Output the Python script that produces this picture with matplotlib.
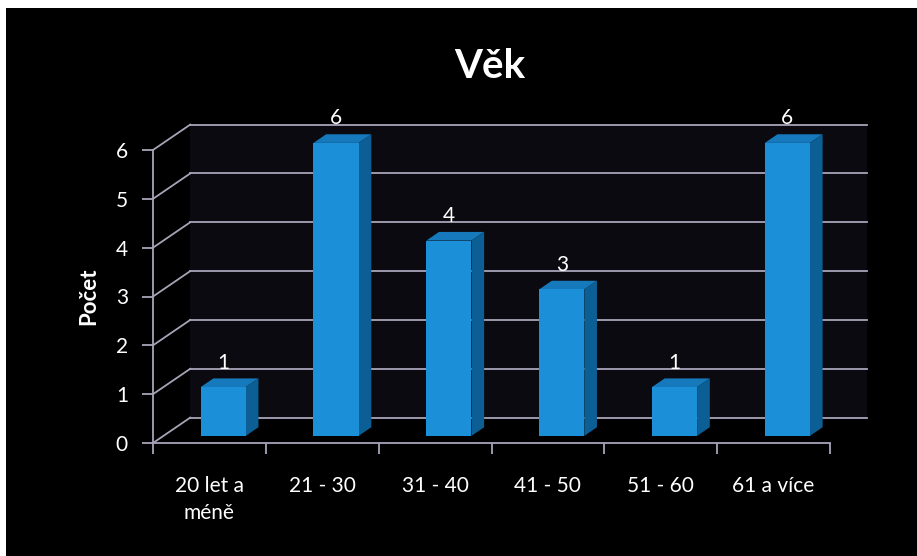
import matplotlib
matplotlib.use('Agg')
import matplotlib.pyplot as plt
from matplotlib.patches import Polygon, Rectangle

# data
categories = ['20 let a\nméně', '21 - 30', '31 - 40', '41 - 50', '51 - 60', '61 a více']
counts = [1, 6, 4, 3, 1, 6]
y_ticks = [0, 1, 2, 3, 4, 5, 6]

plt.rcParams['font.family'] = ['Lato', 'DejaVu Sans']

FRONT = '#1b8fd8'
TOP = '#1679bb'
SIDE = '#0c5f94'
GRID = '#a9a3b8'

# fake 3d depth, in data units (x: categories, y: counts)
DX, DY = 0.33, 0.52
F0, F1 = 0.28, 0.62   # bar front / back depth fraction
BW = 0.40             # bar width
BX = 0.33             # bar left edge inside category

fig = plt.figure(figsize=(9.17, 5.56), dpi=100, facecolor='white')
bg = Rectangle((6 / 917, 0), 1, 1 - 8 / 556, transform=fig.transFigure,
               facecolor='black', edgecolor='none', zorder=-10)
fig.add_artist(bg)

ax = fig.add_axes([153 / 917, 1 - 443 / 556, 677 / 917, 293 / 556])
ax.set_facecolor('none')
ax.set_xlim(0, len(categories))
ax.set_ylim(0, 6)

n = len(categories)
# back wall
ax.add_patch(Polygon([(DX, DY), (n + DX, DY), (n + DX, 6 + DY), (DX, 6 + DY)],
                     closed=True, facecolor='#0b0a10', edgecolor='none', zorder=1, clip_on=False))
for t in y_ticks:
    ax.plot([DX, n + DX], [t + DY, t + DY], color=GRID, lw=1.3, zorder=2, clip_on=False)
    ax.plot([0, DX], [t, t + DY], color=GRID, lw=1.3, zorder=2, clip_on=False)

# bars
for i, v in enumerate(counts):
    x0 = i + BX + F0 * DX
    y0 = F0 * DY
    ax.bar(x0, v, width=BW, bottom=y0, align='edge', color=FRONT, zorder=5, clip_on=False)
    ddx, ddy = (F1 - F0) * DX, (F1 - F0) * DY
    ax.add_patch(Polygon([(x0, y0 + v), (x0 + BW, y0 + v), (x0 + BW + ddx, y0 + v + ddy),
                          (x0 + ddx, y0 + v + ddy)], closed=True, facecolor=TOP,
                         edgecolor='none', zorder=4, clip_on=False))
    ax.add_patch(Polygon([(x0 + BW, y0), (x0 + BW + ddx, y0 + ddy), (x0 + BW + ddx, y0 + v + ddy),
                          (x0 + BW, y0 + v)], closed=True, facecolor=SIDE,
                         edgecolor='none', zorder=4, clip_on=False))
    ax.text(x0 + BW / 2, y0 + v + ddy + 0.12, str(v), ha='center', va='bottom',
            color='white', fontsize=15, zorder=6, clip_on=False)

for s in ['top', 'right']:
    ax.spines[s].set_visible(False)
for s in ['left', 'bottom']:
    ax.spines[s].set_color(GRID)
    ax.spines[s].set_linewidth(1.3)
    ax.spines[s].set_zorder(3)

ax.set_yticks(y_ticks)
ax.set_xticks(range(n + 1))
ax.set_xticklabels([])
ax.set_xticks([i + 0.5 for i in range(n)], minor=True)
ax.set_xticklabels(categories, minor=True, fontsize=15, color='white', linespacing=1.4, va='top')
ax.tick_params(axis='x', which='major', length=8, width=1.3, color=GRID)
ax.tick_params(axis='x', which='minor', length=0, pad=24)
ax.tick_params(axis='y', length=8, width=1.3, color=GRID, labelcolor='white', labelsize=15, pad=10)

ax.set_ylabel('Počet', color='white', fontsize=16, fontweight='bold', labelpad=12)
fig.text(490 / 917, 1 - 66 / 556, 'Věk', ha='center', va='center', color='white',
         fontsize=29, fontweight='bold')

fig.savefig('out.png', dpi=100, facecolor=fig.get_facecolor())
